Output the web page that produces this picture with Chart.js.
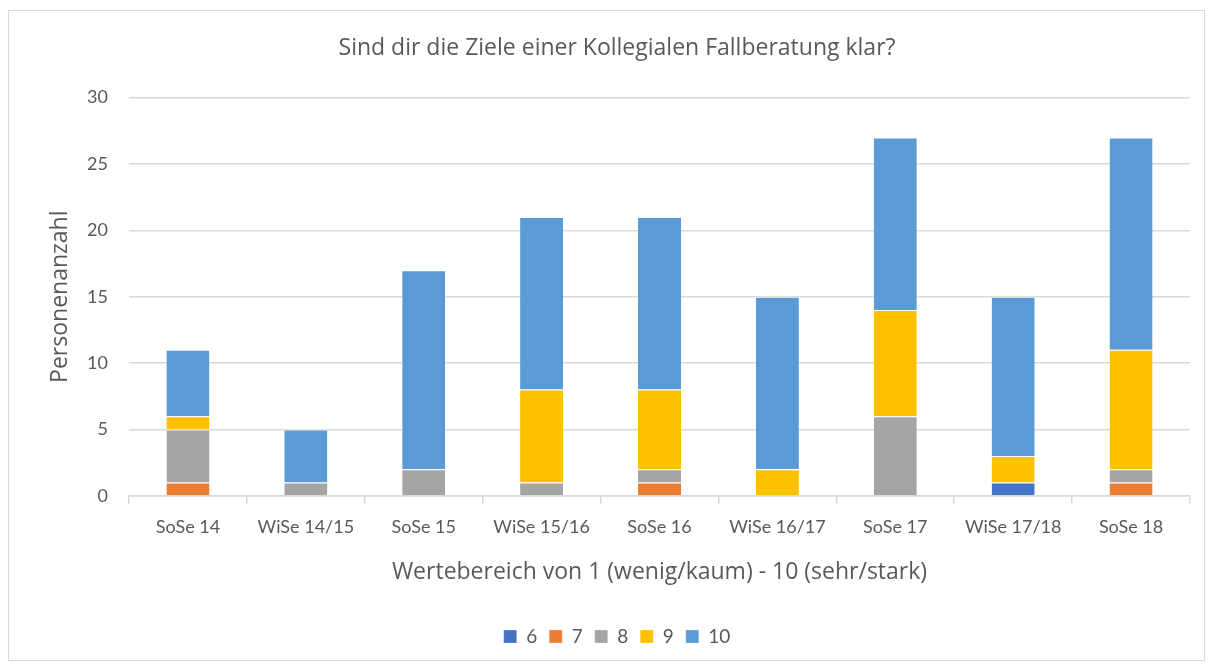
<!DOCTYPE html>
<html>
<head>
<meta charset="utf-8">
<script src="https://cdn.jsdelivr.net/npm/chart.js@4.4.0/dist/chart.umd.min.js"></script>
<style>
  body { margin: 0; background: #fff; }
  #box { position: absolute; left: 8px; top: 10px; width: 1197px; height: 651px; border: 1px solid #d9d9d9; box-sizing: border-box; }
  #wrap { position: absolute; left: 0; top: 0; width: 1195px; height: 649px; }
</style>
</head>
<body>
<div id="box"><div id="wrap"><canvas id="myChart"></canvas></div></div>
<script>
const semesters = ["SoSe 14", "WiSe 14/15", "SoSe 15", "WiSe 15/16", "SoSe 16", "WiSe 16/17", "SoSe 17", "WiSe 17/18", "SoSe 18"];
const val6  = [0, 0, 0, 0, 0, 0, 0, 1, 0];
const val7  = [1, 0, 0, 0, 1, 0, 0, 0, 1];
const val8  = [4, 1, 2, 1, 1, 0, 6, 0, 1];
const val9  = [1, 0, 0, 7, 6, 2, 8, 2, 9];
const val10 = [5, 4, 15, 13, 13, 13, 13, 12, 16];
const yTicks = [0, 5, 10, 15, 20, 25, 30];

const ctx = document.getElementById('myChart');
const txt = '#595959';
const titleFont = '"Open Sans", sans-serif';
Chart.defaults.font.family = 'Lato, "Open Sans", sans-serif';
Chart.defaults.color = txt;

function ds(label, data, color) {
    return {
        label: label,
        data: data,
        backgroundColor: color,
        borderColor: '#ffffff',
        borderWidth: {top: 1, bottom: 0, left: 0, right: 0},
        borderSkipped: false,
        barPercentage: 1,
        categoryPercentage: 0.365
    };
}

const config = {
    type: 'bar',
    data: {
        labels: semesters,
        datasets: [
            ds("6", val6, "#4472C4"),
            ds("7", val7, "#ED7D31"),
            ds("8", val8, "#A5A5A5"),
            ds("9", val9, "#FFC000"),
            ds("10", val10, "#5B9BD5")
        ]
    },
    options: {
        responsive: true,
        maintainAspectRatio: false,
        animation: false,
        layout: { padding: { left: 35, right: 14, top: 18, bottom: 4 } },
        plugins: {
            title: {
                display: true,
                text: 'Sind dir die Ziele einer Kollegialen Fallberatung klar?',
                font: { size: 23, weight: 'normal', family: titleFont },
                color: txt,
                padding: { top: 6, bottom: 35 }
            },
            legend: {
                position: 'bottom',
                labels: {
                    boxWidth: 13,
                    boxHeight: 13,
                    font: { size: 19 },
                    color: txt,
                    padding: 12
                }
            },
            tooltip: { enabled: false }
        },
        scales: {
            x: {
                stacked: true,
                grid: {
                    display: true,
                    offset: true,
                    drawOnChartArea: false,
                    drawTicks: true,
                    tickLength: 8,
                    color: '#d9d9d9',
                    lineWidth: 1.5
                },
                border: { color: '#d9d9d9', width: 1.5 },
                ticks: { font: { size: 18 }, color: txt, padding: 13 },
                title: {
                    display: true,
                    text: 'Wertebereich von 1 (wenig/kaum) - 10 (sehr/stark)',
                    font: { size: 23, family: titleFont },
                    color: txt,
                    padding: { top: 7, bottom: 29 }
                }
            },
            y: {
                stacked: true,
                min: 0,
                max: 30,
                afterBuildTicks: function (axis) {
                    axis.ticks = yTicks.map(v => ({ value: v }));
                },
                afterFit: function (axis) {
                    axis.width = 85;
                },
                grid: { color: '#d9d9d9', lineWidth: 1.5, drawTicks: false },
                border: { display: false },
                ticks: { font: { size: 18 }, color: txt, padding: 21 },
                title: {
                    display: true,
                    text: 'Personenanzahl',
                    font: { size: 23, family: titleFont },
                    color: txt,
                    padding: { top: 3, bottom: 0 }
                }
            }
        }
    }
};

new Chart(ctx, config);
</script>
</body>
</html>
